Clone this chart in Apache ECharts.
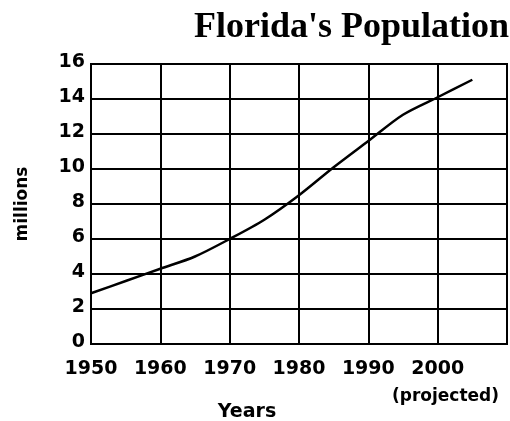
<!DOCTYPE html>
<html><head><meta charset="utf-8">
<script src="https://cdn.jsdelivr.net/npm/echarts@6/dist/echarts.min.js"></script>
<style>html,body{margin:0;padding:0;background:#fff}#c{width:510px;height:421px}</style>
</head><body><div id="c"></div>
<script>
var years = [1950, 1955, 1960, 1965, 1970, 1975, 1980, 1985, 1990, 1995, 2000, 2005];
var population = [2.9, 3.6, 4.3, 5.0, 6.0, 7.1, 8.5, 10.1, 11.6, 13.1, 14.1, 15.1];
var xTickLabels = ['1950', '1960', '1970', '1980', '1990', '2000'];
var yTickLabels = ['0', '2', '4', '6', '8', '10', '12', '14', '16'];

var chart = echarts.init(document.getElementById('c'));
var fontB = '"DejaVu Sans", sans-serif';
chart.setOption({
  animation: false,
  backgroundColor: '#fff',
  title: [
    {text: "Florida's Population", right: -4, top: 5,
     textStyle: {fontFamily: '"Liberation Serif", serif', fontSize: 36, fontWeight: 'bold', color: '#000'}},
    {text: '(projected)', left: 387, top: 383,
     textStyle: {fontFamily: fontB, fontSize: 17, fontWeight: 'bold', color: '#000'}}
  ],
  grid: {left: 91, right: 3, top: 64, bottom: 77, show: true, borderColor: '#000', borderWidth: 2,
         containLabel: false, outerBoundsMode: 'none'},
  xAxis: {
    type: 'value', min: 1950, max: 2010, interval: 10,
    axisLine: {show: true, lineStyle: {color: '#000', width: 2}},
    axisTick: {show: false},
    splitLine: {show: true, lineStyle: {color: '#000', width: 2}},
    axisLabel: {color: '#000', fontFamily: fontB, fontWeight: 'bold', fontSize: 19, margin: 16,
      formatter: function (v) { var s = String(v); return xTickLabels.indexOf(s) >= 0 ? s : ''; }},
    name: 'Years', nameLocation: 'middle', nameGap: 59,
    nameTextStyle: {color: '#000', fontFamily: fontB, fontWeight: 'bold', fontSize: 19, padding: [0, 104, 0, 0]}
  },
  yAxis: {
    type: 'value', min: 0, max: 16, interval: 2,
    axisLine: {show: true, lineStyle: {color: '#000', width: 2}},
    axisTick: {show: false},
    splitLine: {show: true, lineStyle: {color: '#000', width: 2}},
    axisLabel: {color: '#000', fontFamily: fontB, fontWeight: 'bold', fontSize: 19, margin: 6,
      verticalAlign: 'bottom', lineHeight: 4,
      formatter: function (v) { var s = String(v); return yTickLabels.indexOf(s) >= 0 ? s : ''; }},
    name: 'millions', nameLocation: 'middle', nameGap: 60, nameRotate: 90,
    nameTextStyle: {color: '#000', fontFamily: fontB, fontWeight: 'bold', fontSize: 17}
  },
  series: [{
    type: 'line', smooth: 0.3, showSymbol: false,
    lineStyle: {color: '#000', width: 2.5},
    data: years.map(function (y, i) { return [y, population[i]]; })
  }]
});
</script></body></html>
